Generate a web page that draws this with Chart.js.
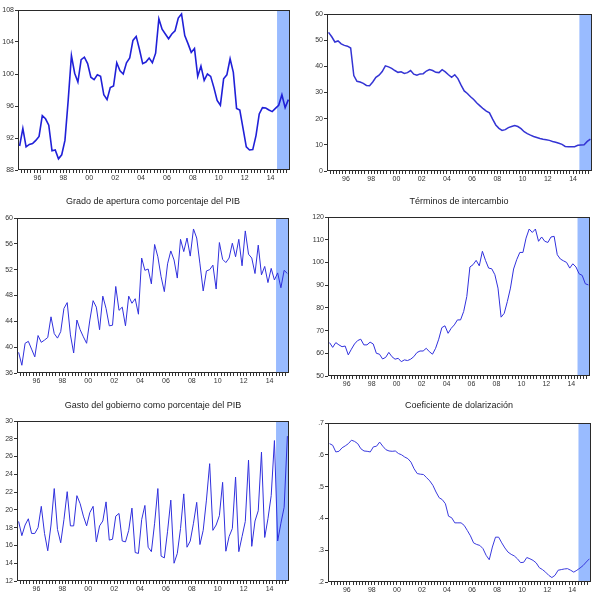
<!DOCTYPE html>
<html>
<head>
<meta charset="utf-8">
<script src="https://cdn.jsdelivr.net/npm/chart.js@4.4.1/dist/chart.umd.min.js"></script>
<style>
  html, body { margin: 0; padding: 0; background: #fff; }
  #wrap { position: relative; width: 597px; height: 595px; overflow: hidden; }
  canvas { position: absolute; left: 0; top: 0; }
  .ttl {
    position: absolute; transform: translate(-50%, -50%);
    font: 9px Arial, "Liberation Sans", sans-serif; color: #222; white-space: nowrap;
  }
</style>
</head>
<body>
<div id="wrap">
  <canvas id="c1" width="597" height="595"></canvas>
  <canvas id="c2" width="597" height="595"></canvas>
  <canvas id="c3" width="597" height="595"></canvas>
  <canvas id="c4" width="597" height="595"></canvas>
  <canvas id="c5" width="597" height="595"></canvas>
  <canvas id="c6" width="597" height="595"></canvas>
  <div class="ttl" style="left:153px;top:201px">Grado de apertura como porcentaje del PIB</div>
  <div class="ttl" style="left:459px;top:201px">Términos de intercambio</div>
  <div class="ttl" style="left:153px;top:405px">Gasto del gobierno como porcentaje del PIB</div>
  <div class="ttl" style="left:459px;top:405px">Coeficiente de dolarización</div>
</div>
<script>
"use strict";

// quarterly data, 1995Q1 - 2015Q4
const START_YEAR = 1995;
const YEAR_LABELS = ["96", "98", "00", "02", "04", "06", "08", "10", "12", "14"];
const SHADE_FROM = 2015;
const SHADE = "#99bbff";

const tipoCambioReal = [
  91.0, 93.2, 90.9, 91.2, 91.3, 91.7, 92.2, 94.8, 94.4, 93.6, 90.4, 90.5,
  89.4, 89.9, 91.7, 96.7, 102.3, 100.1, 99.0, 101.8, 102.1, 101.3, 99.6, 99.3,
  99.9, 99.7, 97.4, 96.8, 98.3, 98.5, 101.4, 100.4, 100.0, 101.4, 102.0, 104.2,
  104.7, 103.1, 101.3, 101.5, 102.0, 101.4, 102.6, 106.9, 105.6, 105.0, 104.4, 105.0,
  105.4, 107.0, 107.5, 104.8, 103.8, 102.7, 103.2, 99.7, 101.0, 99.2, 100.0, 99.7,
  98.3, 96.7, 96.1, 99.4, 99.9, 101.9, 100.2, 95.7, 95.5, 93.2, 90.9, 90.5,
  90.55, 92.3, 95.0, 95.8, 95.75, 95.5, 95.3, 95.7, 96.1, 97.4, 95.8, 96.8,
];

const serieSuperior = [
  53.0, 51.3, 49.3, 49.7, 48.6, 48.0, 47.7, 47.0, 36.5, 34.3, 34.0, 33.5,
  32.7, 32.6, 34.0, 35.8, 36.6, 38.0, 40.2, 39.8, 39.2, 38.4, 37.7, 37.9,
  37.3, 37.6, 38.4, 37.0, 36.6, 37.1, 37.2, 38.2, 38.8, 38.4, 37.7, 37.6,
  38.7, 37.9, 36.8, 35.8, 36.8, 35.3, 32.8, 30.6, 29.6, 28.4, 27.3, 26.0,
  24.9, 23.8, 22.9, 22.2, 19.8, 17.6, 16.3, 15.5, 15.8, 16.6, 17.0, 17.4,
  17.0, 16.2, 15.0, 14.3, 13.7, 13.2, 12.8, 12.4, 12.1, 11.9, 11.7, 11.3,
  11.0, 10.6, 10.2, 9.4, 9.3, 9.3, 9.3, 9.8, 9.9, 10.0, 11.3, 12.2,
];

const gradoApertura = [
  39.2, 37.2, 40.6, 40.9, 39.7, 38.5, 41.8, 40.75, 41.1, 41.5, 44.7, 42.1,
  41.4, 42.4, 46.0, 46.9, 41.9, 39.1, 44.2, 42.7, 41.6, 40.6, 44.2, 47.2,
  46.2, 42.7, 47.9, 46.0, 43.3, 43.4, 49.4, 45.7, 46.2, 43.3, 47.9, 46.8,
  47.5, 45.1, 53.8, 51.9, 52.1, 49.8, 55.9, 54.0, 50.9, 48.6, 52.9, 54.9,
  53.5, 50.7, 56.7, 54.8, 56.9, 54.1, 58.3, 56.9, 52.9, 48.7, 51.8, 52.0,
  52.7, 49.0, 56.2, 53.6, 53.1, 53.8, 56.1, 54.0, 56.7, 52.6, 58.0, 54.4,
  53.8, 51.4, 55.8, 51.2, 52.5, 50.0, 52.2, 50.4, 51.5, 49.2, 51.9, 51.4,
];

const terminosIntercambio = [
  64.7, 62.6, 64.7, 63.7, 62.9, 63.2, 59.3, 61.8, 64.1, 65.6, 66.2, 63.7,
  63.7, 64.9, 64.1, 60.0, 59.6, 57.5, 58.2, 60.4, 58.5, 57.4, 57.8, 56.3,
  57.1, 56.8, 57.4, 58.5, 60.3, 61.0, 61.0, 62.2, 60.7, 59.6, 62.2, 66.2,
  71.3, 72.1, 68.8, 71.0, 72.5, 74.7, 74.7, 78.4, 85.0, 98.0, 99.0, 100.9,
  98.5, 104.9, 100.9, 97.5, 97.2, 94.6, 88.7, 75.9, 77.6, 82.8, 88.7, 97.1,
  101.2, 104.4, 104.4, 110.7, 114.7, 113.2, 114.7, 109.3, 111.2, 109.3, 108.8, 111.2,
  111.5, 103.4, 101.5, 100.7, 100.0, 97.5, 99.4, 98.0, 95.0, 94.3, 90.6, 90.1,
];

const gastoGobierno = [
  18.7, 17.1, 18.3, 19.0, 17.35, 17.35, 18.0, 20.4, 17.35, 15.4, 18.3, 22.4,
  17.8, 16.3, 18.9, 22.05, 18.2, 18.2, 21.6, 20.7, 19.3, 18.2, 19.7, 20.4,
  16.4, 18.2, 18.75, 20.9, 16.6, 16.7, 19.3, 19.6, 16.5, 16.4, 17.7, 20.2,
  15.2, 15.1, 18.9, 20.5, 15.8, 15.3, 18.5, 22.4, 14.8, 14.6, 17.6, 21.1,
  14.0, 15.1, 17.9, 21.8, 15.8, 16.5, 18.5, 20.85, 16.1, 17.7, 21.1, 25.2,
  17.7, 18.3, 19.35, 23.1, 15.35, 17.0, 17.9, 23.7, 15.3, 17.0, 18.7, 25.6,
  15.9, 18.75, 19.9, 26.5, 16.9, 19.0, 21.6, 27.8, 16.5, 18.5, 20.3, 28.3,
];

const dolarizacion = [
  .635, .630, .609, .611, .622, .628, .635, .646, .642, .635, .619, .612,
  .611, .609, .625, .627, .640, .627, .616, .612, .611, .612, .604, .600,
  .593, .588, .577, .556, .541, .539, .538, .528, .518, .504, .483, .465,
  .459, .446, .407, .402, .386, .386, .386, .378, .362, .345, .323, .318,
  .315, .305, .284, .270, .310, .341, .341, .323, .307, .294, .287, .282,
  .273, .261, .262, .277, .273, .268, .260, .245, .239, .231, .221, .214,
  .221, .237, .239, .241, .242, .237, .231, .237, .244, .252, .263, .273,
];

const TICK_COLOR = "#333";
const FONT = { family: "Arial, 'Liberation Sans', sans-serif", size: 7 };

const labelAt = new Map(YEAR_LABELS.map((lab, i) => [START_YEAR + 1.5 + 2 * i, lab]));

const panelPlugin = {
  id: "panel",
  beforeDatasetsDraw(chart) {
    const { ctx, chartArea: a, scales: { x } } = chart;
    const x0 = x.getPixelForValue(SHADE_FROM);
    ctx.save();
    ctx.fillStyle = SHADE;
    ctx.fillRect(x0, a.top, a.right - x0, a.bottom - a.top);
    ctx.restore();
  },
  afterDraw(chart) {
    const { ctx, chartArea: a } = chart;
    ctx.save();
    ctx.strokeStyle = "#2a2a2a";
    ctx.lineWidth = 1;
    ctx.strokeRect(Math.round(a.left) + 0.5, Math.round(a.top) + 0.5,
      Math.round(a.right - a.left) - 1, Math.round(a.bottom - a.top) - 1);
    ctx.restore();
  },
};

function makePanel(id, values, box, yOpts, line) {
  const nQ = values.length;
  const points = values.map((v, i) => ({ x: START_YEAR + i / 4 + 0.125, y: v }));
  return new Chart(document.getElementById(id), {
    type: "line",
    data: {
      datasets: [{
        data: points,
        borderColor: line.color,
        borderWidth: line.width,
        pointRadius: 0,
        tension: 0,
        fill: false,
      }],
    },
    options: {
      responsive: false,
      animation: false,
      layout: {
        padding: { left: box.l - 17, top: box.t, right: 597 - box.r, bottom: 595 - box.b - 16 },
      },
      plugins: { legend: { display: false }, tooltip: { enabled: false } },
      scales: {
        x: {
          type: "linear",
          min: START_YEAR,
          max: START_YEAR + nQ / 4,
          afterBuildTicks(scale) {
            const ticks = [];
            for (let k = 1; k < nQ; k++) ticks.push({ value: START_YEAR + k / 4 });
            scale.ticks = ticks;
          },
          afterFit(scale) { scale.height = 16; },
          grid: { drawOnChartArea: false, tickLength: 3, color: TICK_COLOR },
          border: { display: false },
          ticks: {
            autoSkip: false, maxRotation: 0, padding: 1, color: TICK_COLOR, font: FONT,
            callback: (v) => labelAt.get(v) || "",
          },
        },
        y: {
          min: yOpts.min,
          max: yOpts.max,
          afterFit(scale) { scale.width = 17; },
          grid: { drawOnChartArea: false, tickLength: 3, color: TICK_COLOR },
          border: { display: false },
          ticks: {
            stepSize: yOpts.step, padding: 1, color: TICK_COLOR, font: FONT,
            callback: yOpts.fmt || ((v) => String(v)),
          },
        },
      },
    },
    plugins: [panelPlugin],
  });
}

makePanel("c1", tipoCambioReal, { l: 18, t: 10, r: 290, b: 170 },
  { min: 88, max: 108, step: 4 }, { color: "#2020d8", width: 1.6 });
makePanel("c2", serieSuperior, { l: 327, t: 14, r: 592, b: 171 },
  { min: 0, max: 60, step: 10 }, { color: "#3434d4", width: 1.5 });
makePanel("c3", gradoApertura, { l: 17, t: 218, r: 289, b: 373 },
  { min: 36, max: 60, step: 4 }, { color: "#3030dd", width: 1 });
makePanel("c4", terminosIntercambio, { l: 328, t: 217, r: 590, b: 376 },
  { min: 50, max: 120, step: 10 }, { color: "#3030dd", width: 1 });
makePanel("c5", gastoGobierno, { l: 17, t: 421, r: 289, b: 581 },
  { min: 12, max: 30, step: 2 }, { color: "#3030dd", width: 1 });
makePanel("c6", dolarizacion, { l: 328, t: 423, r: 591, b: 582 },
  { min: 0.2, max: 0.7, step: 0.1, fmt: (v) => v.toFixed(1).replace(/^0/, "") },
  { color: "#3a3ade", width: 1 });
</script>
</body>
</html>
